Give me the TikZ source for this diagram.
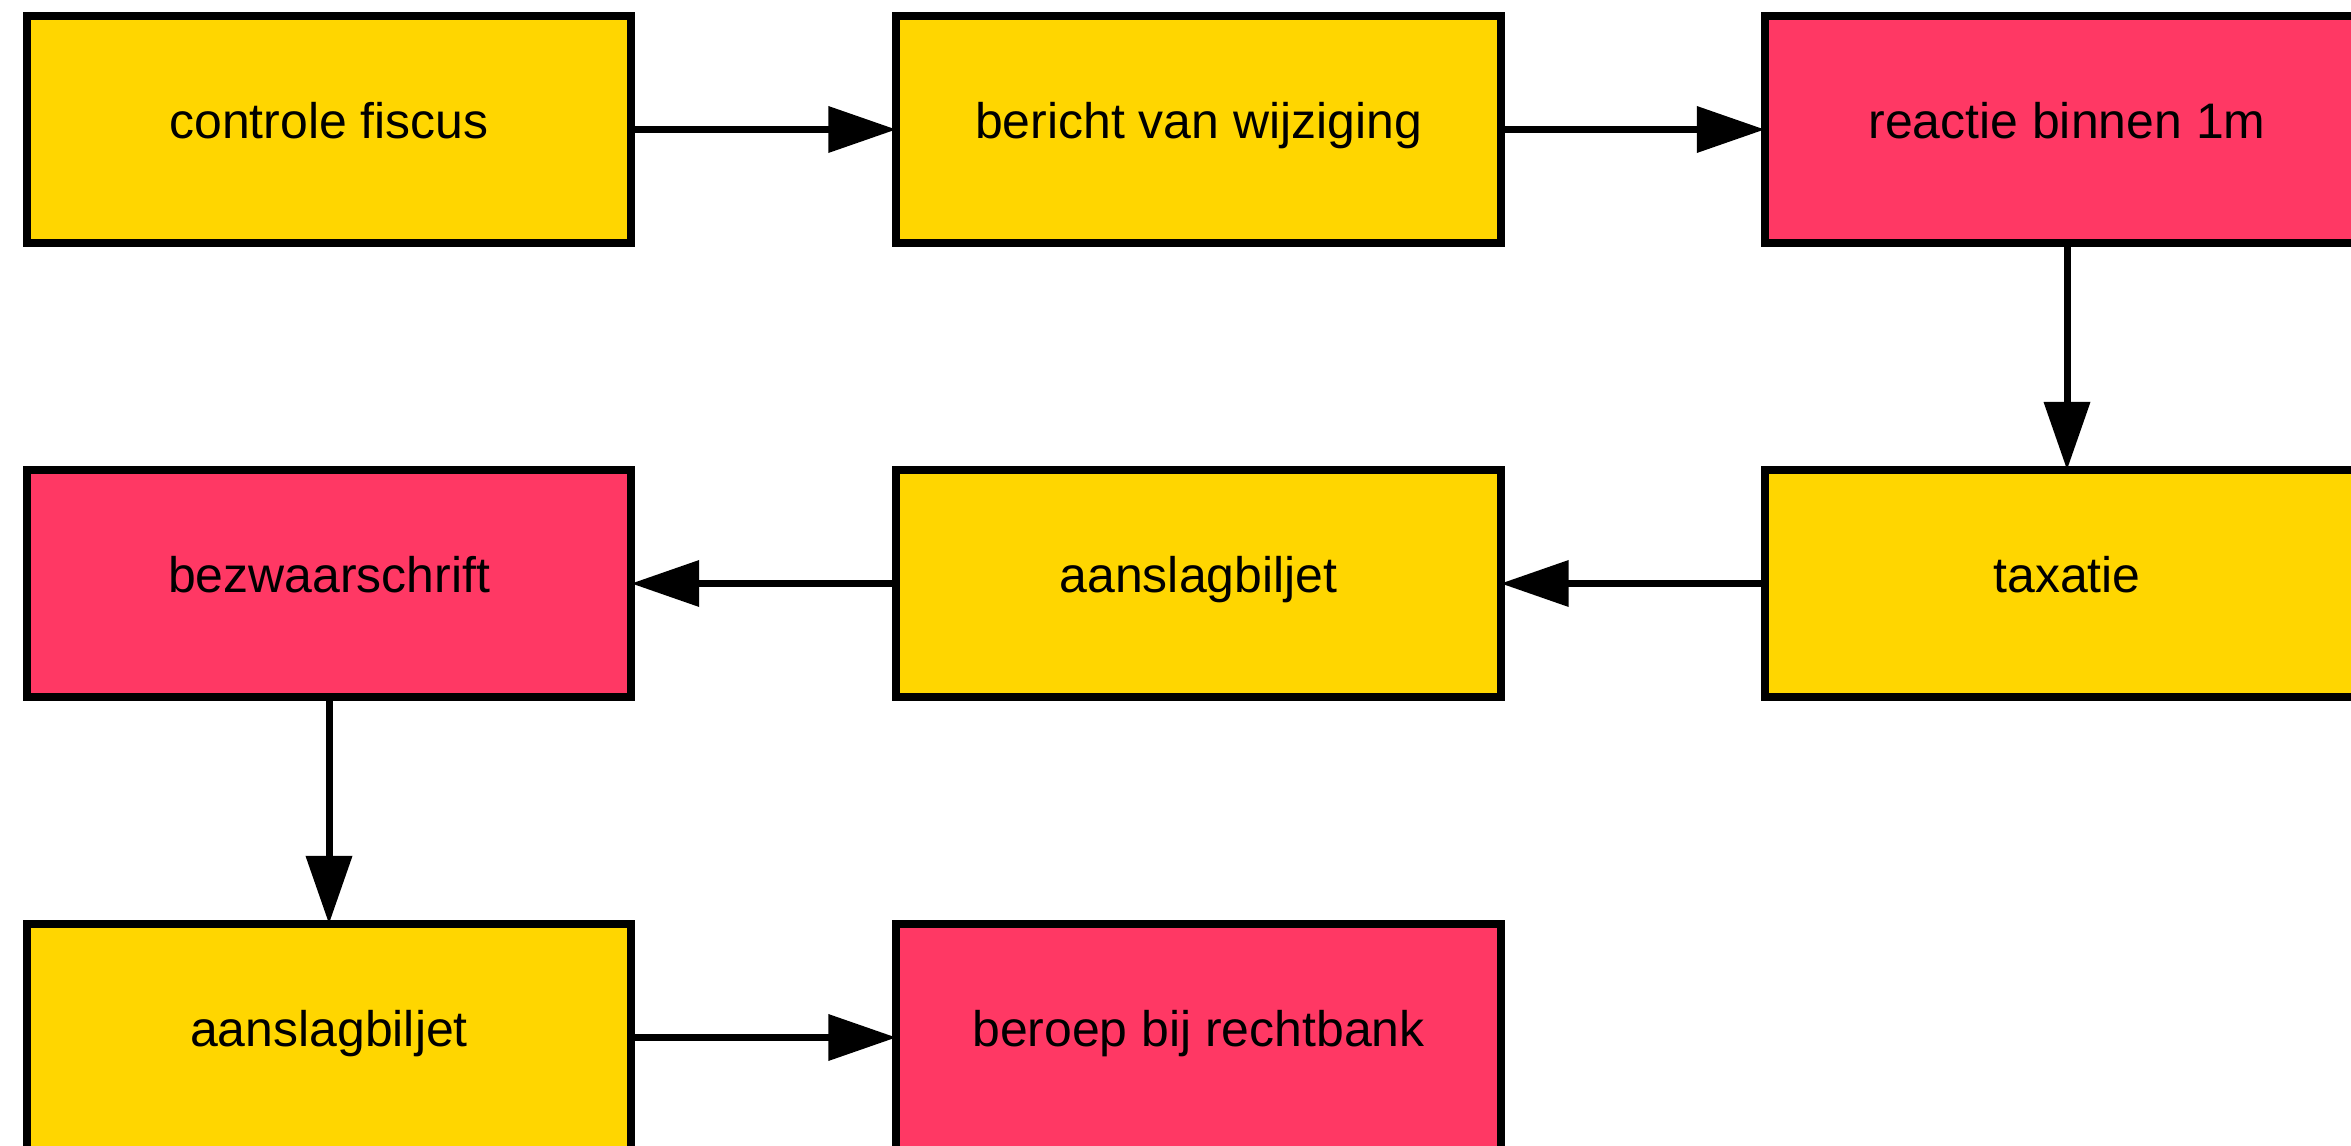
\documentclass[tikz,border=0pt]{standalone}
\usepackage{fontspec}
\setmainfont{Liberation Sans}
\usetikzlibrary{arrows.meta}
\definecolor{boxyellow}{RGB}{255,214,0}
\definecolor{boxpink}{RGB}{255,56,100}
\begin{document}
\begin{tikzpicture}[x=0.01cm,y=-0.01cm,
  stepbox/.style={draw=black, line width=0.08cm, minimum width=6.04cm, minimum height=2.27cm,
    inner sep=0pt, outer sep=0pt, text height=0.72em, text depth=0.21em,
    font=\fontsize{14.2pt}{17pt}\selectfont},
  yel/.style={stepbox, fill=boxyellow},
  pnk/.style={stepbox, fill=boxpink},
  conn/.style={line width=0.07cm, -{Triangle[length=0.68cm,width=0.45cm]}}]
\useasboundingbox (0,0) rectangle (2351,1146);
\clip (0,0) rectangle (2351,1146);
\fill[white] (0,0) rectangle (2351,1146);
\node[yel] (a1) at (329,129.5) {controle fiscus};
\node[yel] (a2) at (1198.5,129.5) {bericht van wijziging};
\node[pnk] (a3) at (2067,129.5) {reactie binnen 1m};
\node[yel] (b3) at (2067,583.5) {taxatie};
\node[yel] (b2) at (1198.5,583.5) {aanslagbiljet};
\node[pnk] (b1) at (329,583.5) {bezwaarschrift};
\node[yel] (c1) at (329,1037.5) {aanslagbiljet};
\node[pnk] (c2) at (1198.5,1037.5) {beroep bij rechtbank};
\draw[conn] (a1) -- (a2);
\draw[conn] (a2) -- (a3);
\draw[conn] (a3) -- (b3);
\draw[conn] (b3) -- (b2);
\draw[conn] (b2) -- (b1);
\draw[conn] (b1) -- (c1);
\draw[conn] (c1) -- (c2);
\end{tikzpicture}
\end{document}
